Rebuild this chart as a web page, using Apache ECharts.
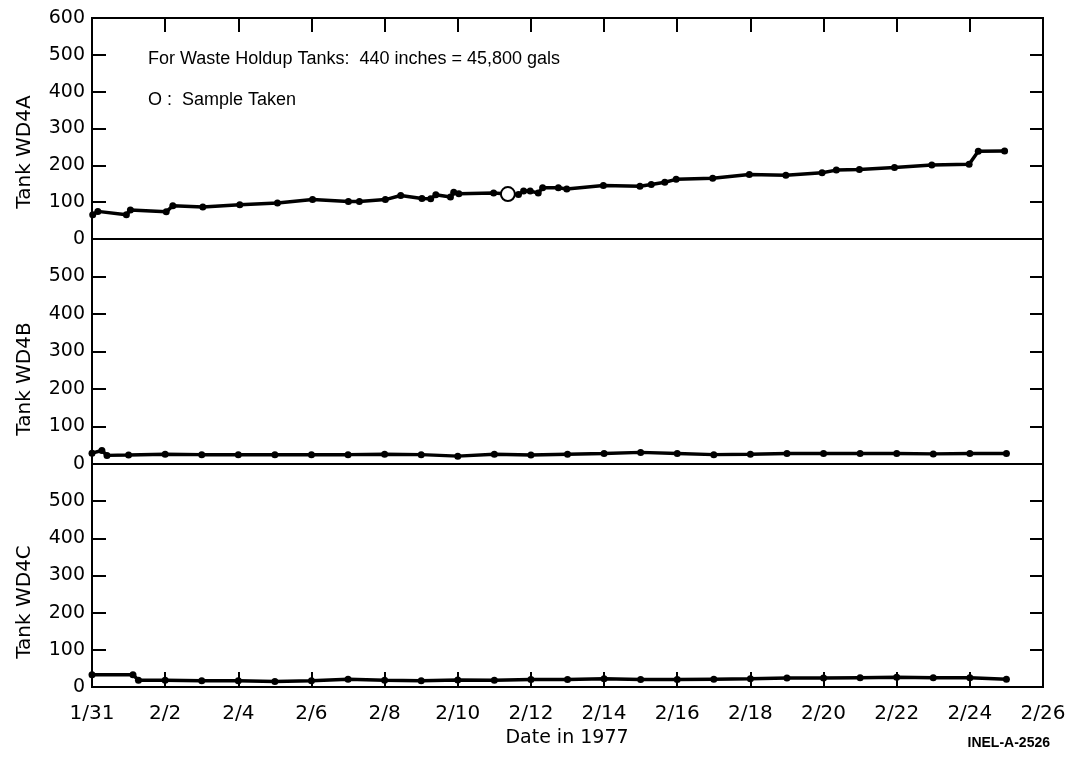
<!DOCTYPE html>
<html>
<head>
<meta charset="utf-8">
<script src="https://cdn.jsdelivr.net/npm/echarts@6/dist/echarts.min.js"></script>
<style>
  html, body { margin: 0; padding: 0; background: #fff; }
  #myChart { width: 1072px; height: 760px; }
</style>
</head>
<body>
<div id="myChart"></div>
<script>
// x values are days after 1/31/1977
const xLabels = ['1/31', '2/2', '2/4', '2/6', '2/8', '2/10', '2/12', '2/14',
  '2/16', '2/18', '2/20', '2/22', '2/24', '2/26']

// Tank WD4A
const daysA = [0.02, 0.16, 0.94, 1.05, 2.03, 2.21, 3.03, 4.04, 5.07, 6.03, 7.01, 7.31,
  8.02, 8.44, 9.02, 9.26, 9.4, 9.8, 9.89, 10.03, 10.98, 11.37, 11.66, 11.8, 11.98,
  12.2, 12.32, 12.75, 12.98, 13.98, 14.98, 15.29, 15.66, 15.97, 16.97, 17.97, 18.97,
  19.96, 20.35, 20.98, 21.94, 22.96, 23.98, 24.23, 24.95]
const tankA = [66, 75, 66, 79, 74, 90, 87, 93, 98, 107, 102, 102,
  107, 118, 110, 109, 120, 114, 127, 123, 125, 122, 121, 130, 130,
  125, 139, 139, 136, 145, 143, 148, 154, 162, 165, 175, 173,
  180, 187, 189, 194, 201, 203, 238, 239]

// sample taken
const sampleDays = [11.37]
const sampleA = [122]

// Tank WD4B
const daysB = [0, 0.27, 0.41, 1, 2, 3, 4, 5, 6, 7, 8, 9, 10, 11, 12, 13, 14, 15, 16,
  17, 18, 19, 20, 21, 22, 23, 24, 25]
const tankB = [29, 36, 23, 24, 26, 25, 25, 25, 25, 25, 26, 25, 21, 26, 24, 26, 28, 31, 28,
  25, 26, 28, 28, 28, 28, 27, 28, 28]

// Tank WD4C
const daysC = [0, 1.12, 1.27, 2, 3, 4, 5, 6, 7, 8, 9, 10, 11, 12, 13, 14, 15, 16,
  17, 18, 19, 20, 21, 22, 23, 24, 25]
const tankC = [33, 33, 18, 18, 17, 17, 15, 17, 21, 18, 17, 19, 18, 20, 20, 22, 20, 20,
  21, 22, 24, 24, 25, 26, 25, 25, 21]

const font = '"Liberation Sans", Arial, Helvetica, sans-serif'
const wide = '"DejaVu Sans", Verdana, sans-serif'
const pairs = (xs, ys) => xs.map((x, i) => [x, ys[i]])

// panel positions (top, height)
const panels = [[18, 221], [239, 225], [464, 223]]
const names = ['Tank WD4A', 'Tank WD4B', 'Tank WD4C']
const nameY = [152, 379, 602]

const grids = panels.map(p => ({
  left: 92, right: 29, top: p[0], height: p[1],
  show: true, borderColor: '#000', borderWidth: 2, backgroundColor: 'transparent'
}))

const tick = len => ({ show: true, inside: true, length: len, lineStyle: { color: '#000', width: 2 } })

const xAxes = [
  {
    gridIndex: 0, type: 'value', position: 'top', min: 0, max: 26, interval: 2,
    axisLine: { show: false, onZero: false },
    axisTick: tick(14),
    axisLabel: { show: false }, splitLine: { show: false }
  },
  {
    gridIndex: 1, type: 'value', min: 0, max: 26, interval: 2,
    axisLine: { show: false, onZero: false }, axisTick: { show: false },
    axisLabel: { show: false }, splitLine: { show: false }
  },
  {
    gridIndex: 2, type: 'value', position: 'bottom', min: 0, max: 26, interval: 2,
    axisLine: { show: false, onZero: false },
    axisTick: tick(15),
    axisLabel: {
      color: '#000', fontSize: 20, fontFamily: wide, margin: 17,
      formatter: v => xLabels[Math.round(v / 2)]
    },
    splitLine: { show: false }
  }
]

const yAxes = []
panels.forEach((p, i) => {
  // left axis with labels
  yAxes.push({
    gridIndex: i, type: 'value', position: 'left', min: 0, max: 600, interval: 100,
    axisLine: { show: false, onZero: false },
    axisTick: tick(14),
    axisLabel: {
      color: '#000', fontSize: 19, fontFamily: wide, margin: 7,
      formatter: v => (i > 0 && v === 600) ? '' : String(v)
    },
    splitLine: { show: false }
  })
  // right axis, ticks only
  yAxes.push({
    gridIndex: i, type: 'value', position: 'right', min: 0, max: 600, interval: 100,
    axisLine: { show: false, onZero: false },
    axisTick: tick(13),
    axisLabel: { show: false }, splitLine: { show: false }
  })
})

const lineSeries = (data, i) => ({
  type: 'line', xAxisIndex: i, yAxisIndex: i * 2, data: data,
  symbol: 'circle', symbolSize: 7, showSymbol: true,
  lineStyle: { color: '#000', width: 3.5 },
  itemStyle: { color: '#000' }
})

const nameText = names.map((n, i) => ({
  type: 'text', x: 25, y: nameY[i], rotation: Math.PI / 2,
  style: { text: n, fill: '#000', fontSize: 20, fontFamily: wide, align: 'center', verticalAlign: 'middle' }
}))

const option = {
  animation: false,
  backgroundColor: '#fff',
  grid: grids,
  xAxis: xAxes,
  yAxis: yAxes,
  series: [
    lineSeries(pairs(daysA, tankA), 0),
    lineSeries(pairs(daysB, tankB), 1),
    lineSeries(pairs(daysC, tankC), 2),
    {
      type: 'scatter', xAxisIndex: 0, yAxisIndex: 0, data: pairs(sampleDays, sampleA),
      symbol: 'circle', symbolSize: 14, z: 5,
      itemStyle: { color: '#fff', borderColor: '#000', borderWidth: 2, opacity: 1 }
    }
  ],
  graphic: nameText.concat([
    {
      type: 'text', left: 148, top: 50,
      style: { text: 'For Waste Holdup Tanks:  440 inches = 45,800 gals', fill: '#000', fontSize: 18, fontFamily: font }
    },
    {
      type: 'text', left: 148, top: 91,
      style: { text: 'O :  Sample Taken', fill: '#000', fontSize: 18, fontFamily: font }
    },
    {
      type: 'text', x: 567, y: 738,
      style: { text: 'Date in 1977', fill: '#000', fontSize: 19, fontFamily: wide, align: 'center', verticalAlign: 'middle' }
    },
    {
      type: 'text', right: 22, top: 736,
      style: { text: 'INEL-A-2526', fill: '#000', fontSize: 14, fontWeight: 'bold', fontFamily: font }
    }
  ])
}

const chart = echarts.init(document.getElementById('myChart'))
chart.setOption(option)
</script>
</body>
</html>
